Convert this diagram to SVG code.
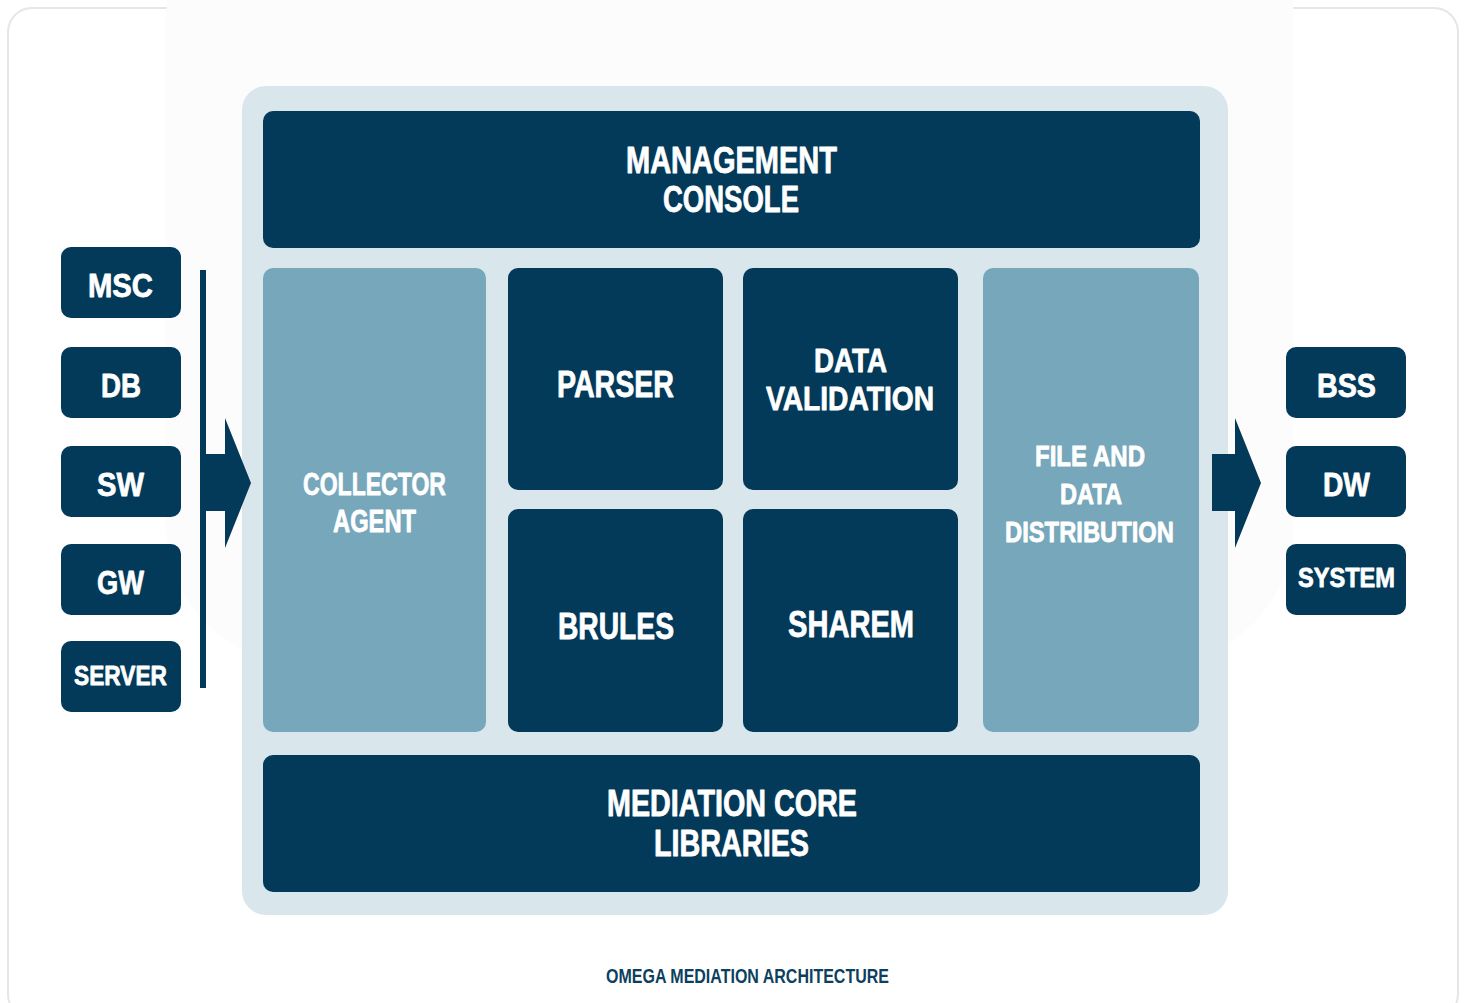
<svg xmlns="http://www.w3.org/2000/svg" width="1466" height="1003" viewBox="0 0 1466 1003">
<style>
.dk{fill:#033a5a}
.md{fill:#76a7ba}
.t{font-family:"Liberation Sans",Arial,sans-serif;font-weight:bold;fill:#ffffff;stroke:#ffffff;stroke-width:0.8px;stroke-linejoin:round}
.cap{font-family:"Liberation Sans",Arial,sans-serif;font-weight:bold;fill:#0d3f60}
</style>
<rect x="0" y="0" width="1466" height="1003" fill="#ffffff"/>
<rect x="8" y="8" width="1450" height="1010" rx="24" fill="#ffffff" stroke="#e6e6e6" stroke-width="2"/>
<rect x="166" y="-120" width="1128" height="785" rx="140" fill="#fcfcfd"/>
<g id="panel"><rect x="242" y="86" width="986" height="829" rx="24" fill="#d9e7ed"/></g>

<g id="connectors">
<rect class="dk" x="200" y="270" width="6" height="418"/>
<polygon class="dk" points="200,454 225,454 225,418 251,483 225,548 225,511 200,511"/>
<polygon class="dk" points="1212,454 1235,454 1235,418 1261,483 1235,548 1235,511 1212,511"/>
</g>

<g id="management-console"><rect class="dk" x="263" y="111" width="937" height="137" rx="10"/>
<text class="t" font-size="36" x="626" y="173" textLength="211" lengthAdjust="spacingAndGlyphs">MANAGEMENT</text>
<text class="t" font-size="36" x="663" y="212" textLength="136" lengthAdjust="spacingAndGlyphs">CONSOLE</text></g>

<g id="collector-agent"><rect class="md" x="263" y="268" width="223" height="464" rx="10"/>
<text class="t" font-size="31" x="303" y="495" textLength="143" lengthAdjust="spacingAndGlyphs">COLLECTOR</text>
<text class="t" font-size="31" x="333" y="532" textLength="83" lengthAdjust="spacingAndGlyphs">AGENT</text></g>

<g id="parser"><rect class="dk" x="508" y="268" width="215" height="222" rx="10"/>
<text class="t" font-size="36" x="557" y="397" textLength="117" lengthAdjust="spacingAndGlyphs">PARSER</text></g>

<g id="data-validation"><rect class="dk" x="743" y="268" width="215" height="222" rx="10"/>
<text class="t" font-size="34" x="814" y="372" textLength="73" lengthAdjust="spacingAndGlyphs">DATA</text>
<text class="t" font-size="34" x="766" y="410" textLength="168" lengthAdjust="spacingAndGlyphs">VALIDATION</text></g>

<g id="brules"><rect class="dk" x="508" y="509" width="215" height="223" rx="10"/>
<text class="t" font-size="36" x="558" y="639" textLength="116" lengthAdjust="spacingAndGlyphs">BRULES</text></g>

<g id="sharem"><rect class="dk" x="743" y="509" width="215" height="223" rx="10"/>
<text class="t" font-size="36" x="788" y="637" textLength="126" lengthAdjust="spacingAndGlyphs">SHAREM</text></g>

<g id="file-data-distribution"><rect class="md" x="983" y="268" width="216" height="464" rx="10"/>
<text class="t" font-size="29" x="1035" y="466" textLength="110" lengthAdjust="spacingAndGlyphs">FILE AND</text>
<text class="t" font-size="29" x="1060" y="504" textLength="62" lengthAdjust="spacingAndGlyphs">DATA</text>
<text class="t" font-size="29" x="1005" y="542" textLength="169" lengthAdjust="spacingAndGlyphs">DISTRIBUTION</text></g>

<g id="mediation-core"><rect class="dk" x="263" y="755" width="937" height="137" rx="10"/>
<text class="t" font-size="36" x="607" y="816" textLength="250" lengthAdjust="spacingAndGlyphs">MEDIATION CORE</text>
<text class="t" font-size="36" x="654" y="856" textLength="155" lengthAdjust="spacingAndGlyphs">LIBRARIES</text></g>

<g id="msc"><rect class="dk" x="61" y="247" width="120" height="71" rx="10"/>
<text class="t" font-size="34" x="88" y="297" textLength="65" lengthAdjust="spacingAndGlyphs">MSC</text></g>
<g id="db"><rect class="dk" x="61" y="347" width="120" height="71" rx="10"/>
<text class="t" font-size="34" x="101" y="397" textLength="40" lengthAdjust="spacingAndGlyphs">DB</text></g>
<g id="sw"><rect class="dk" x="61" y="446" width="120" height="71" rx="10"/>
<text class="t" font-size="34" x="97" y="496" textLength="47" lengthAdjust="spacingAndGlyphs">SW</text></g>
<g id="gw"><rect class="dk" x="61" y="544" width="120" height="71" rx="10"/>
<text class="t" font-size="34" x="97" y="594" textLength="47" lengthAdjust="spacingAndGlyphs">GW</text></g>
<g id="server"><rect class="dk" x="61" y="641" width="120" height="71" rx="10"/>
<text class="t" font-size="27" x="74" y="685" textLength="93" lengthAdjust="spacingAndGlyphs">SERVER</text></g>

<g id="bss"><rect class="dk" x="1286" y="347" width="120" height="71" rx="10"/>
<text class="t" font-size="34" x="1317" y="397" textLength="59" lengthAdjust="spacingAndGlyphs">BSS</text></g>
<g id="dw"><rect class="dk" x="1286" y="446" width="120" height="71" rx="10"/>
<text class="t" font-size="34" x="1323" y="496" textLength="47" lengthAdjust="spacingAndGlyphs">DW</text></g>
<g id="system"><rect class="dk" x="1286" y="544" width="120" height="71" rx="10"/>
<text class="t" font-size="27" x="1298" y="587" textLength="97" lengthAdjust="spacingAndGlyphs">SYSTEM</text></g>

<text class="cap" font-size="20" x="606" y="983" textLength="283" lengthAdjust="spacingAndGlyphs">OMEGA MEDIATION ARCHITECTURE</text>
</svg>
